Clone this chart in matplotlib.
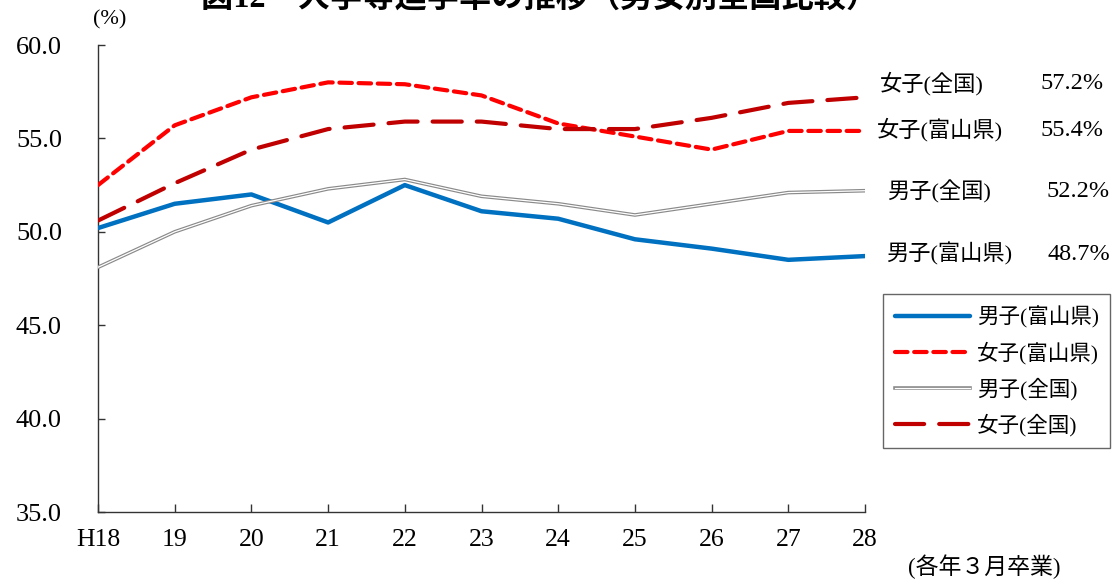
import matplotlib
matplotlib.use("Agg")
import matplotlib.pyplot as plt
import matplotlib.patheffects as pe

plt.rcParams['font.family'] = ['Liberation Serif', 'Noto Sans CJK JP', 'DejaVu Sans']

# ---- data ----
years = ['H18', '19', '20', '21', '22', '23', '24', '25', '26', '27', '28']
male_toyama = [50.2, 51.5, 52.0, 50.5, 52.5, 51.1, 50.7, 49.6, 49.1, 48.5, 48.7]
female_toyama = [52.5, 55.7, 57.2, 58.0, 57.9, 57.3, 55.8, 55.1, 54.4, 55.4, 55.4]
male_national = [48.1, 50.0, 51.4, 52.3, 52.8, 51.9, 51.5, 50.9, 51.5, 52.1, 52.2]
female_national = [50.6, 52.6, 54.4, 55.5, 55.9, 55.9, 55.5, 55.5, 56.1, 56.9, 57.2]
yticks = [35.0, 40.0, 45.0, 50.0, 55.0, 60.0]

names = ['男子(富山県)', '女子(富山県)', '男子(全国)', '女子(全国)']
title = '図12　大学等進学率の推移（男女別全国比較）'

W, H = 1116, 582
def fx(px): return px / W
def fy(py): return 1 - py / H

fig = plt.figure(figsize=(W / 100, H / 100), dpi=100)
ax = fig.add_axes([fx(98), fy(512), fx(865) - fx(98), fy(45) - fy(512)])

x = list(range(len(years)))
l1, = ax.plot(x, male_toyama, color='#0070C0', lw=3.2, solid_capstyle='round',
              solid_joinstyle='round', label=names[0], zorder=3)
l3, = ax.plot(x, male_national, color='white', lw=0.9, label=names[2], zorder=4,
              path_effects=[pe.Stroke(linewidth=2.6, foreground='#8a8a8a'), pe.Normal()])
l2, = ax.plot(x, female_toyama, color='#FF0000', lw=3.0, linestyle=(0, (3.0, 1.6)),
              dash_capstyle='round', label=names[1], zorder=5)
l4, = ax.plot(x, female_national, color='#C00000', lw=3.0, linestyle=(0, (7.0, 3.6)),
              dash_capstyle='round', label=names[3], zorder=6)

ax.set_xlim(0, len(years) - 1)
ax.set_ylim(35, 60)
ax.set_xticks(x)
ax.set_xticklabels(years)
ax.set_yticks(yticks)
ax.set_yticklabels([f'{v:.1f}' for v in yticks])
for s in ['top', 'right']:
    ax.spines[s].set_visible(False)
for s in ['left', 'bottom']:
    ax.spines[s].set_color('#333333')
    ax.spines[s].set_linewidth(1.0)
ax.tick_params(axis='y', direction='in', length=5, width=1, color='#333333',
               labelsize=19, pad=26)
ax.tick_params(axis='x', direction='in', length=6, width=1, color='#333333',
               labelsize=18.5, pad=12)

# title (partly cut at top as in reference)
fig.text(fx(540), fy(-1), title, ha='center', va='center', fontsize=23.2,
         fontweight='bold')
fig.text(fx(110), fy(20), '(%)', ha='center', va='center', fontsize=16)
fig.text(fx(984), fy(567), '(各年３月卒業)', ha='center', va='center', fontsize=16.5)

# end labels
end_labels = [
    (names[3], female_national[-1], 880, 1104, 84),
    (names[1], female_toyama[-1], 877, 1104, 130),
    (names[2], male_national[-1], 887, 1110, 192),
    (names[0], male_toyama[-1], 886, 1110, 254),
]
for nm, val, xl, xr, yy in end_labels:
    fig.text(fx(xl), fy(yy), nm, ha='left', va='center', fontsize=16)
    fig.text(fx(xr), fy(yy), f'{val:.1f}%', ha='right', va='center', fontsize=17.5)

leg = fig.legend(handles=[l1, l2, l3, l4], loc='upper left',
                 bbox_to_anchor=(fx(883), fy(294)), bbox_transform=fig.transFigure,
                 fontsize=15.5, frameon=True, fancybox=False, handlelength=3.5,
                 labelspacing=0.62, borderpad=0.55, handletextpad=0.3,
                 borderaxespad=0)
leg.get_frame().set_edgecolor('#404040')
leg.get_frame().set_linewidth(1.0)

fig.savefig('out.png', dpi=100)
